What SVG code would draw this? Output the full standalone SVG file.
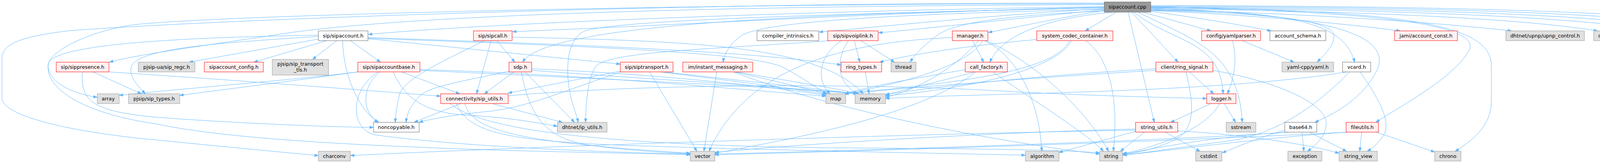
<svg xmlns="http://www.w3.org/2000/svg" width="4576" height="417" viewBox="0 0 4576 417">
<style>
.e path{fill:none;stroke:#63b8ff;stroke-width:1;marker-end:url(#a)}
.n text{font-family:"DejaVu Sans","Liberation Sans",sans-serif;font-size:12.75px;text-anchor:middle;fill:#000}
.r rect{fill:#fff0f0;stroke:#ff0000}
.g rect{fill:#e0e0e0;stroke:#999999}
.w rect{fill:#ffffff;stroke:#666666}
.k rect{fill:#999999;stroke:#666666}
</style>
<defs>
<marker id="a" viewBox="0 0 10 7" refX="10" refY="3.5" markerWidth="10" markerHeight="7" markerUnits="userSpaceOnUse" orient="auto"><path d="M0,0L10,3.5L0,7z" fill="#63b8ff" stroke="#63b8ff" stroke-width="1"/></marker>
</defs>
<rect width="4576" height="417" fill="#ffffff"/>
<g id="edges" class="e">
<path d="M2827,17 C2200,25 1300,55 943,88"/>
<path d="M2827,18 C2300,30 1700,66 1312,81"/>
<path d="M2827,22 C2550,38 2300,64 2097,82"/>
<path d="M2827,25 C2620,45 2420,68 2249,84"/>
<path d="M2827,27 C2720,44 2620,66 2530,83"/>
<path d="M2858,31 L2778,79"/>
<path d="M2925,31 L3100,79"/>
<path d="M2946,29 C3060,45 3170,62 3254,79"/>
<path d="M2946,27 C3200,38 3420,58 3585,79"/>
<path d="M2946,25 C3300,33 3620,52 3870,79"/>
<path d="M2946,22 C3500,28 3900,48 4090,79"/>
<path d="M2946,20 C3600,24 4050,45 4245,79"/>
<path d="M2946,18 C3700,21 4150,42 4345,79"/>
<path d="M2946,16 C3800,18 4250,40 4432,79"/>
<path d="M2946,14 C3900,16 4350,38 4515,79"/>
<path d="M2827,12 C1800,15 1000,40 700,90 C500,120 350,140 280,159"/>
<path d="M2827,20 C2100,35 1400,58 1338,159"/>
<path d="M2827,24 C2300,35 1960,55 1900,90 C1870,110 1855,135 1851,159"/>
<path d="M2827,28 C2560,40 2440,60 2400,90 C2370,112 2345,135 2330,159"/>
<path d="M2850,31 C2700,45 2570,80 2534,159"/>
<path d="M2897,31 L3016,159"/>
<path d="M2946,26 C3250,35 3420,50 3415,95 C3413,120 3390,140 3372,159"/>
<path d="M2946,24 C3300,30 3440,55 3468,159"/>
<path d="M2903,31 C3000,110 3125,100 3131,240"/>
<path d="M2827,10 C1800,8 500,40 330,65 C200,88 120,140 123,170 C128,215 190,240 249,249"/>
<path d="M2827,8 C1800,5 600,48 183,78 C60,92 5,110 5,150 L5,250 C5,300 200,340 400,358 C600,378 750,392 815,398"/>
<path d="M2827,20 C2000,38 1560,55 1495,80 C1455,100 1450,160 1455,210 C1460,260 1476,290 1480,313"/>
<path d="M2888,31 L2955,313"/>
<path d="M2913,31 C3050,100 3172,130 3180,313"/>
<path d="M2946,21 C3450,38 3560,100 3525,180 C3490,250 3420,290 3366,313"/>
<path d="M2946,19 C3500,28 3800,60 3760,130 C3720,200 3600,262 3522,313"/>
<path d="M2946,17 C3600,28 3820,60 3818,170 L3818,260 C3818,320 3770,360 3725,387"/>
<path d="M815,100 L484,159"/>
<path d="M836,104 L650,159"/>
<path d="M862,104 L800,152"/>
<path d="M897,104 L974,159"/>
<path d="M877,104 C880,200 920,280 968,313"/>
<path d="M942,99 L1588,164"/>
<path d="M815,93 C600,108 340,120 335,175 C333,200 355,222 372,240"/>
<path d="M815,90 C500,95 150,110 125,160 C110,210 180,285 400,317 C600,360 1000,375 1300,385 C1500,390 1700,394 1767,396"/>
<path d="M942,96 C1400,112 1900,128 2153,166"/>
<path d="M942,98 C1400,115 1900,130 2000,170 C2050,195 2090,225 2116,240"/>
<path d="M916,184 C750,205 450,228 305,244"/>
<path d="M916,184 C750,207 550,232 460,244"/>
<path d="M973,184 C925,220 925,290 970,313"/>
<path d="M968,184 C895,230 895,330 960,345 C1200,378 1600,391 1767,394"/>
<path d="M1028,184 L1177,240"/>
<path d="M1007,185 C1040,260 1100,290 1200,295 C1300,300 1380,315 1427,323"/>
<path d="M1075,178 C1500,190 1900,230 2114,246"/>
<path d="M1075,180 C1500,200 1950,220 2195,240"/>
<path d="M1240,104 C1150,150 1030,200 1022,245 C1015,275 1012,300 1012,313"/>
<path d="M1257,104 L1220,240"/>
<path d="M1272,104 L1318,159"/>
<path d="M1311,95 C1800,105 2100,120 2210,240"/>
<path d="M1315,184 L1240,240"/>
<path d="M1303,182 C1200,205 1100,220 1075,245 C1050,270 1040,295 1040,313"/>
<path d="M1344,184 L1471,313"/>
<path d="M1335,185 C1355,290 1390,350 1500,370 C1600,385 1700,390 1767,393"/>
<path d="M1361,176 C1700,190 2000,225 2114,244"/>
<path d="M1361,180 C1700,205 2050,225 2195,240"/>
<path d="M1588,182 L1301,238"/>
<path d="M1590,184 C1450,230 1350,275 1250,285 C1150,295 1100,305 1073,313"/>
<path d="M1663,184 L1784,387"/>
<path d="M1690,184 C1900,210 2050,230 2116,241"/>
<path d="M1700,184 C1950,212 2100,228 2195,240"/>
<path d="M1835,184 L1802,387"/>
<path d="M1880,184 C2000,210 2080,232 2120,240"/>
<path d="M1885,184 C2050,212 2150,228 2200,240"/>
<path d="M1878,184 C2150,290 2600,370 2815,394"/>
<path d="M2154,104 C2100,140 2085,200 2125,240"/>
<path d="M2172,104 C2140,150 2140,210 2195,240"/>
<path d="M2187,104 L2201,159"/>
<path d="M2204,104 L2290,159"/>
<path d="M2125,104 C1850,125 1560,130 1525,170 C1505,200 1500,260 1499,313"/>
<path d="M2490,104 L2518,159"/>
<path d="M2438,96 C2100,110 1900,200 1815,387"/>
<path d="M2505,104 C2450,170 2350,230 2267,249"/>
<path d="M2515,104 C2480,170 2300,215 2163,240"/>
<path d="M2520,104 C2600,140 2660,250 2667,387"/>
<path d="M2525,104 C2650,160 2780,280 2838,387"/>
<path d="M2654,101 C2500,115 2350,135 2252,159"/>
<path d="M2743,104 C2700,185 2450,230 2267,245"/>
<path d="M2738,104 C2700,190 2400,215 2162,240"/>
<path d="M2780,104 C2840,150 2865,250 2850,387"/>
<path d="M2471,178 C2350,200 2250,215 2162,240"/>
<path d="M2495,184 C2420,205 2330,225 2267,243"/>
<path d="M2497,185 C2350,300 2000,360 1830,392"/>
<path d="M2543,185 C2650,260 2780,340 2825,387"/>
<path d="M3045,184 L3107,240"/>
<path d="M3036,184 C3055,260 3060,320 3020,350 C2980,375 2920,390 2875,395"/>
<path d="M2959,176 C2700,190 2400,220 2267,242"/>
<path d="M2959,180 C2700,195 2350,222 2162,240"/>
<path d="M3105,180 C3250,205 3400,260 3395,320 C3392,350 3370,370 3347,387"/>
<path d="M3482,184 C3520,240 3560,300 3545,340 C3535,360 3520,375 3500,387"/>
<path d="M3455,184 C3380,260 3280,340 3150,360 C3000,380 2920,392 2875,397"/>
<path d="M3448,184 C3100,240 2500,238 2267,252"/>
<path d="M3155,104 C3168,150 3160,200 3142,240"/>
<path d="M3180,104 L3313,159"/>
<path d="M3100,265 L2997,313"/>
<path d="M3134,265 L3163,313"/>
<path d="M3122,265 C3090,330 2950,380 2874,393"/>
<path d="M2215,184 L2225,240"/>
<path d="M2930,338 L2868,387"/>
<path d="M2983,338 L3072,387"/>
<path d="M3015,335 C3200,345 3350,370 3428,392"/>
<path d="M2907,336 L2711,390"/>
<path d="M2907,330 C2500,340 2000,372 1830,390"/>
<path d="M2907,333 C2200,345 1200,382 897,398"/>
<path d="M3333,338 L3338,387"/>
<path d="M3352,338 L3447,387"/>
<path d="M3295,338 C3100,350 2950,380 2874,395"/>
<path d="M3300,338 C3000,360 2200,385 1830,394"/>
<path d="M3289,333 C3230,350 3180,370 3129,391"/>
<path d="M3486,338 L3481,387"/>
<path d="M3523,338 L3673,389"/>
<path d="M3450,338 C3200,355 3000,385 2874,397"/>
<path d="M3452,338 C3000,362 2200,387 1830,396"/>
<path d="M1180,265 L1060,313"/>
<path d="M1260,265 L1440,313"/>
<path d="M1153,265 C1250,350 1700,372 2100,378 C2450,380 2700,382 2815,391"/>
<path d="M1168,265 C1200,340 1300,360 1600,372 C2000,385 2400,392 2625,397"/>
<path d="M1190,265 C1210,340 1350,365 1767,392"/>
<path d="M1301,245 C1700,210 2300,215 2600,235 C2800,245 3000,250 3089,252"/>
<path d="M238,184 L362,240"/>
<path d="M279,184 C600,205 900,228 1128,246"/>
<path d="M211,185 C205,260 240,285 400,300 C600,315 850,325 956,326"/>
</g>
<g id="node-sipaccount-cpp" class="n k"><rect x="2827" y="5" width="119" height="26"/><text x="2886.5" y="22">sipaccount.cpp</text></g>
<g id="node-sipaccount-h" class="n w"><rect x="815" y="79" width="127" height="25"/><text x="878.5" y="96">sip/sipaccount.h</text></g>
<g id="node-sipcall-h" class="n r"><rect x="1212" y="79" width="99" height="25"/><text x="1261.5" y="96">sip/sipcall.h</text></g>
<g id="node-compiler-intrinsics-h" class="n w"><rect x="1938" y="79" width="158" height="25"/><text x="2017" y="96">compiler_intrinsics.h</text></g>
<g id="node-sipvoiplink-h" class="n r"><rect x="2119" y="79" width="129" height="25"/><text x="2183.5" y="96">sip/sipvoiplink.h</text></g>
<g id="node-manager-h" class="n r"><rect x="2438" y="79" width="91" height="25"/><text x="2483.5" y="96">manager.h</text></g>
<g id="node-system-codec-container-h" class="n r"><rect x="2654" y="79" width="195" height="25"/><text x="2751.5" y="96">system_codec_container.h</text></g>
<g id="node-yamlparser-h" class="n r"><rect x="3076" y="79" width="151" height="25"/><text x="3151.5" y="96">config/yamlparser.h</text></g>
<g id="node-account-schema-h" class="n w"><rect x="3251" y="79" width="143" height="25"/><text x="3322.5" y="96">account_schema.h</text></g>
<g id="node-account-const-h" class="n r"><rect x="3570" y="79" width="161" height="25"/><text x="3650.5" y="96">jami/account_const.h</text></g>
<g id="node-upnp-control-h" class="n g"><rect x="3855" y="79" width="201" height="25"/><text x="3955.5" y="96">dhtnet/upnp/upnp_control.h</text></g>
<g id="node-crypto-h" class="n g"><rect x="4080" y="79" width="133" height="25"/><text x="4146.5" y="96">opendht/crypto.h</text></g>
<g id="node-unistd-h" class="n g"><rect x="4237" y="79" width="75" height="25"/><text x="4274.5" y="96">unistd.h</text></g>
<g id="node-cstdlib" class="n g"><rect x="4336" y="79" width="66" height="25"/><text x="4369" y="96">cstdlib</text></g>
<g id="node-ctime" class="n g"><rect x="4426" y="79" width="60" height="25"/><text x="4456" y="96">ctime</text></g>
<g id="node-pwd-h" class="n g"><rect x="4509" y="79" width="62" height="25"/><text x="4540" y="96">pwd.h</text></g>
<g id="node-sippresence-h" class="n r"><rect x="144" y="159" width="135" height="25"/><text x="211.5" y="176">sip/sippresence.h</text></g>
<g id="node-sip-regc-h" class="n g"><rect x="354" y="159" width="145" height="25"/><text x="426.5" y="176">pjsip-ua/sip_regc.h</text></g>
<g id="node-sipaccount-config-h" class="n r"><rect x="523" y="159" width="151" height="25"/><text x="598.5" y="176">sipaccount_config.h</text></g>
<g id="node-sip-transport-tls-h" class="n g"><rect x="697" y="152" width="144" height="40"/><text x="769" y="168">pjsip/sip_transport</text><text x="769" y="183">_tls.h</text></g>
<g id="node-sipaccountbase-h" class="n r"><rect x="916" y="159" width="159" height="25"/><text x="995.5" y="176">sip/sipaccountbase.h</text></g>
<g id="node-sdp-h" class="n r"><rect x="1303" y="159" width="58" height="25"/><text x="1332" y="176">sdp.h</text></g>
<g id="node-siptransport-h" class="n r"><rect x="1588" y="159" width="135" height="25"/><text x="1655.5" y="176">sip/siptransport.h</text></g>
<g id="node-instant-messaging-h" class="n r"><rect x="1748" y="159" width="179" height="25"/><text x="1837.5" y="176">im/instant_messaging.h</text></g>
<g id="node-ring-types-h" class="n r"><rect x="2153" y="159" width="104" height="25"/><text x="2205" y="176">ring_types.h</text></g>
<g id="node-thread" class="n g"><rect x="2281" y="159" width="64" height="25"/><text x="2313" y="176">thread</text></g>
<g id="node-call-factory-h" class="n r"><rect x="2471" y="159" width="108" height="25"/><text x="2525" y="176">call_factory.h</text></g>
<g id="node-ring-signal-h" class="n r"><rect x="2959" y="159" width="146" height="25"/><text x="3032" y="176">client/ring_signal.h</text></g>
<g id="node-yaml-h" class="n g"><rect x="3282" y="159" width="132" height="25"/><text x="3348" y="176">yaml-cpp/yaml.h</text></g>
<g id="node-vcard-h" class="n w"><rect x="3437" y="159" width="72" height="25"/><text x="3473" y="176">vcard.h</text></g>
<g id="node-array" class="n g"><rect x="249" y="240" width="56" height="25"/><text x="277" y="257">array</text></g>
<g id="node-sip-types-h" class="n g"><rect x="329" y="240" width="131" height="25"/><text x="394.5" y="257">pjsip/sip_types.h</text></g>
<g id="node-sip-utils-h" class="n r"><rect x="1128" y="240" width="173" height="25"/><text x="1214.5" y="257">connectivity/sip_utils.h</text></g>
<g id="node-map" class="n g"><rect x="2114" y="240" width="51" height="25"/><text x="2139.5" y="257">map</text></g>
<g id="node-memory" class="n g"><rect x="2189" y="240" width="78" height="25"/><text x="2228" y="257">memory</text></g>
<g id="node-logger-h" class="n r"><rect x="3089" y="240" width="75" height="25"/><text x="3126.5" y="257">logger.h</text></g>
<g id="node-noncopyable-h" class="n w"><rect x="956" y="313" width="117" height="25"/><text x="1014.5" y="330">noncopyable.h</text></g>
<g id="node-ip-utils-h" class="n g"><rect x="1427" y="313" width="127" height="25"/><text x="1490.5" y="330">dhtnet/ip_utils.h</text></g>
<g id="node-string-utils-h" class="n r"><rect x="2907" y="313" width="108" height="25"/><text x="2961" y="330">string_utils.h</text></g>
<g id="node-sstream" class="n g"><rect x="3139" y="313" width="76" height="25"/><text x="3177" y="330">sstream</text></g>
<g id="node-base64-h" class="n w"><rect x="3289" y="313" width="82" height="25"/><text x="3330" y="330">base64.h</text></g>
<g id="node-fileutils-h" class="n r"><rect x="3446" y="313" width="83" height="25"/><text x="3487.5" y="330">fileutils.h</text></g>
<g id="node-charconv" class="n g"><rect x="815" y="387" width="82" height="25"/><text x="856" y="404">charconv</text></g>
<g id="node-vector" class="n g"><rect x="1767" y="387" width="63" height="25"/><text x="1798.5" y="404">vector</text></g>
<g id="node-algorithm" class="n g"><rect x="2625" y="387" width="86" height="25"/><text x="2668" y="404">algorithm</text></g>
<g id="node-string" class="n g"><rect x="2815" y="387" width="59" height="25"/><text x="2844.5" y="404">string</text></g>
<g id="node-cstdint" class="n g"><rect x="3061" y="387" width="67" height="25"/><text x="3094.5" y="404">cstdint</text></g>
<g id="node-exception" class="n g"><rect x="3297" y="387" width="87" height="25"/><text x="3340.5" y="404">exception</text></g>
<g id="node-string-view" class="n g"><rect x="3428" y="387" width="98" height="25"/><text x="3477" y="404">string_view</text></g>
<g id="node-chrono" class="n g"><rect x="3673" y="387" width="67" height="25"/><text x="3706.5" y="404">chrono</text></g>
</svg>
